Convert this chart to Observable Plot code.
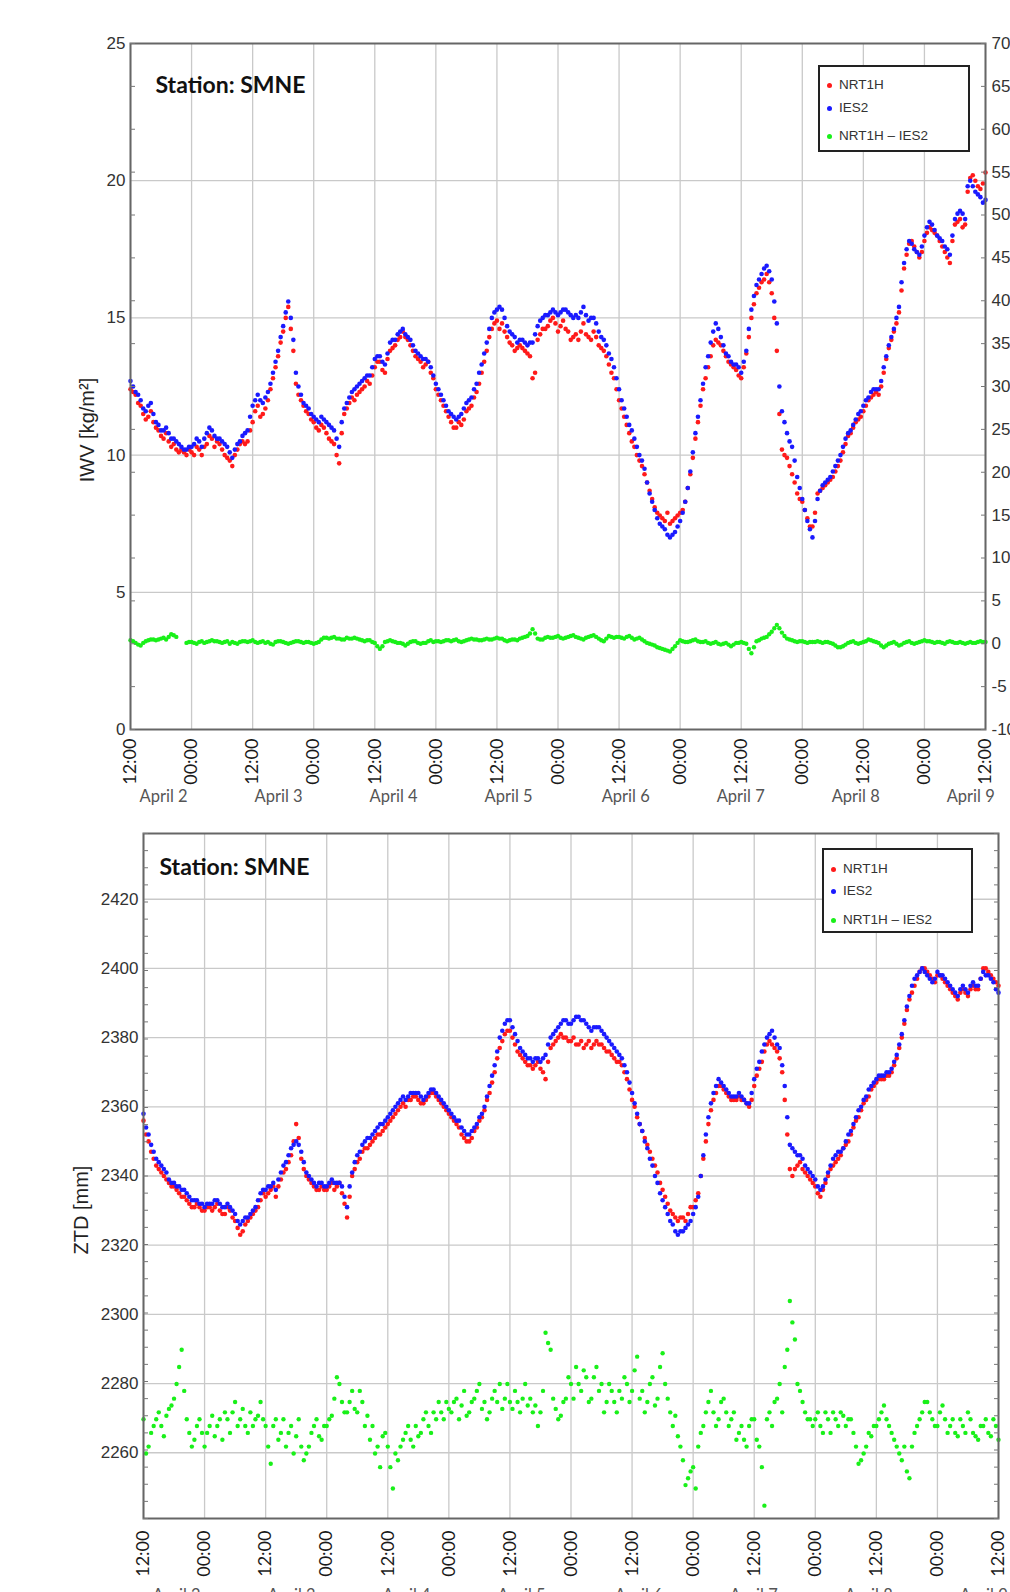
<!DOCTYPE html>
<html><head><meta charset="utf-8">
<script src="https://cdn.jsdelivr.net/npm/d3@7"></script>
<script src="https://cdn.jsdelivr.net/npm/@observablehq/plot@0.6"></script>
<style>
body{margin:0;background:#fff;}
#wrap{position:relative;width:1010px;height:1592px;overflow:hidden;background:#fff;}
#wrap svg{display:block;}
.legend{position:absolute;border:2px solid #222;background:#fff;font-family:"Liberation Sans",Arial,sans-serif;font-size:13.5px;color:#333;box-sizing:border-box;}
.legend .it{position:absolute;left:0;height:16px;line-height:16px;display:flex;align-items:center;white-space:nowrap;}
.legend .dot{width:5px;height:5px;border-radius:50%;}
.ylab{position:absolute;font-family:"Liberation Sans",Arial,sans-serif;font-size:20px;color:#222;white-space:nowrap;transform:translate(-50%,-50%) rotate(-90deg);}
</style></head><body><div id="wrap"></div>
<script>
// ---------- data (hour 0 = first 12:00 tick; full-hour and half-hour samples) ----------
const station = "Station: SMNE";
const seriesNames = ["NRT1H", "IES2", "NRT1H \u2013 IES2"];
const seriesColors = ["#ff1a1a", "#1a1aff", "#19f019"];
const dateNames = ["April 2","April 3","April 4","April 5","April 6","April 7","April 8","April 9"];
const dateHours = [6.5, 29.1, 51.7, 74.3, 97.3, 119.9, 142.5, 165.1];
const timeTicks = [0,12,24,36,48,60,72,84,96,108,120,132,144,156,168];
const timeTickLabels = ["12:00","00:00","12:00","00:00","12:00","00:00","12:00","00:00","12:00","00:00","12:00","00:00","12:00","00:00","12:00"];

const iwvTicks = [0,5,10,15,20,25];
const iwvRightTicks = [-10,-5,0,5,10,15,20,25,30,35,40,45,50,55,60,65,70];
const ztdTicks = [2260,2280,2300,2320,2340,2360,2380,2400,2420];
const ztdRightTicks = [-10,-8,-6,-4,-2,0,2,4,6,8,10,12,14,16,18,20,22,24,26,28,30,32,34,36,38,40,42,44,46,48,50,52,54,56,58,60,62,64,66,68,70];

const iwvNRT1H = [
12.4,12.2,11.8,11.3,11.6,11.0,10.7,10.8,10.3,10.2,10.2,10.0,
10.1,10.3,10.0,10.4,10.6,10.5,10.2,9.9,9.6,10.2,10.5,10.5,
11.2,11.8,11.5,12.0,12.8,13.6,14.5,15.4,13.8,12.2,11.8,11.5,
11.2,10.9,11.0,10.6,10.4,9.7,11.5,11.9,12.0,12.3,12.5,12.6,
13.2,13.4,13.0,13.8,14.0,14.3,14.3,14.0,13.6,13.4,13.3,13.0,
12.4,12.0,11.6,11.2,11.0,11.1,11.6,11.8,12.3,13.0,13.8,14.6,
14.9,14.8,14.3,14.0,13.9,13.9,13.7,12.8,14.2,14.6,14.7,15.0,
14.5,14.9,14.5,14.3,14.2,14.8,14.3,14.5,14.0,13.8,13.3,12.8,
12.0,11.4,10.8,10.3,9.8,9.3,8.7,8.1,7.8,7.6,7.5,7.7,
7.9,8.3,9.3,10.6,11.8,12.8,13.6,14.2,14.0,13.6,13.3,13.1,
12.8,13.7,15.0,15.9,16.3,16.6,15.9,13.8,10.2,9.9,9.3,8.6,
8.3,7.7,7.4,8.6,8.8,9.0,9.2,9.6,10.1,10.7,11.0,11.3,
11.6,12.0,12.2,12.2,13.0,13.9,14.5,15.2,16.8,17.7,17.6,17.2,
17.8,18.3,18.1,17.8,17.4,17.0,18.4,18.6,18.4,20.1,20.0,19.7,
20.3];
const iwvNRT1Hhalf = [
12.3,11.9,11.5,11.4,11.2,10.9,10.6,10.5,10.4,10.1,10.1,10.2,
10.0,10.2,10.3,10.7,10.3,10.4,10.0,9.8,10.0,10.4,10.4,10.9,
11.6,11.4,11.7,12.4,13.2,14.1,15.0,14.6,12.6,12.0,11.6,11.3,
11.0,11.1,10.8,10.5,10.0,10.8,11.7,12.1,12.2,12.4,12.7,12.9,
13.4,13.1,13.5,13.9,14.2,14.5,14.2,13.8,13.5,13.2,13.4,12.8,
12.2,11.8,11.4,11.0,11.2,11.3,11.7,12.1,12.6,13.4,14.3,14.8,
14.6,14.5,14.1,13.8,14.0,13.8,13.6,13.0,14.4,14.6,14.9,14.8,
14.7,14.6,14.2,14.4,14.5,14.4,14.2,14.3,13.9,13.6,13.0,12.4,
11.7,11.1,10.5,10.0,9.6,9.0,8.4,7.9,7.7,7.9,7.6,7.8,
8.0,8.8,9.9,11.2,12.4,13.2,14.0,14.1,13.8,13.4,13.2,12.9,
13.2,14.3,15.5,16.1,16.4,16.3,15.0,11.5,10.0,9.6,9.0,8.4,
8.0,7.4,7.9,8.7,8.9,9.1,9.4,9.8,10.4,10.8,11.2,11.4,
11.8,12.1,12.3,12.5,13.5,14.2,14.8,16.0,17.3,17.8,17.4,17.4,
18.1,18.2,18.0,17.6,17.2,17.8,18.5,18.3,19.6,20.2,19.8,19.9];
const iwvIES2 = [
12.7,12.3,12.0,11.6,11.9,11.2,10.9,11.0,10.6,10.5,10.3,10.2,
10.3,10.6,10.3,10.8,10.9,10.6,10.5,10.3,9.9,10.4,10.7,10.9,
11.8,12.2,11.9,12.3,13.0,13.8,14.7,15.6,14.2,12.5,11.9,11.7,
11.4,11.2,11.3,11.1,10.9,10.3,11.7,12.1,12.4,12.6,12.8,12.9,
13.5,13.6,13.3,14.1,14.2,14.5,14.4,14.2,13.8,13.6,13.5,13.2,
12.6,12.2,11.8,11.5,11.3,11.5,11.9,12.1,12.6,13.3,14.1,15.0,
15.3,15.3,14.7,14.4,14.1,14.2,14.0,14.1,14.7,15.0,15.1,15.3,
15.1,15.3,15.2,15.0,15.0,15.4,14.9,15.0,14.5,14.2,13.7,13.2,
12.4,11.7,11.1,10.6,10.0,9.5,8.6,8.0,7.5,7.3,7.0,7.2,
7.6,8.3,9.4,10.8,12.0,13.2,14.1,14.8,14.3,13.7,13.4,13.3,
13.0,13.8,15.3,16.2,16.6,16.9,16.4,14.8,11.6,10.8,10.3,9.2,
8.4,7.6,7.0,8.4,8.9,9.1,9.4,9.8,10.3,10.8,11.1,11.5,
11.8,12.1,12.4,12.4,13.2,14.0,14.6,15.4,17.0,17.8,17.5,17.3,
18.0,18.5,18.2,17.9,17.6,17.3,18.6,18.9,18.6,20.0,19.6,19.4,
19.3];
const iwvIES2half = [
12.5,12.2,11.7,11.8,11.5,11.1,10.9,10.8,10.6,10.4,10.2,10.3,
10.4,10.5,10.6,11.0,10.7,10.6,10.4,10.1,10.2,10.5,10.8,11.4,
12.0,12.0,12.1,12.6,13.4,14.3,15.2,15.0,13.0,12.2,11.8,11.5,
11.3,11.4,11.2,11.0,10.6,11.2,11.9,12.3,12.5,12.7,12.9,13.2,
13.6,13.4,13.7,14.2,14.4,14.6,14.3,14.0,13.7,13.5,13.4,12.9,
12.4,12.0,11.6,11.4,11.4,11.7,12.0,12.4,13.0,13.7,14.6,15.2,
15.4,15.0,14.5,14.3,14.2,14.1,14.1,14.4,14.9,15.1,15.2,15.2,
15.2,15.3,15.1,15.1,15.2,15.1,15.0,14.8,14.3,14.0,13.5,12.8,
12.0,11.4,10.9,10.3,9.8,9.0,8.3,7.7,7.4,7.1,7.1,7.4,
7.9,8.8,10.1,11.4,12.6,13.6,14.5,14.6,14.0,13.6,13.3,13.2,
13.4,14.6,15.8,16.4,16.8,16.7,15.6,12.5,11.2,10.5,9.8,8.8,
8.0,7.3,7.6,8.7,9.0,9.2,9.6,10.0,10.6,10.9,11.3,11.6,
12.0,12.3,12.4,12.7,13.6,14.3,15.0,16.3,17.5,17.7,17.4,17.6,
18.3,18.4,18.0,17.8,17.5,18.0,18.8,18.8,19.8,19.8,19.5,19.2];
const iwvDiff = [
0.4,0.1,-0.2,0.3,0.5,0.4,0.6,0.5,1.1,0.8,null,0.1,
0.2,0.0,0.3,0.2,0.4,0.3,0.1,0.3,0.2,0.0,0.3,0.2,
0.4,0.1,0.3,0.2,-0.1,0.3,0.2,0.0,0.2,0.3,0.1,0.2,
0.0,0.2,0.7,0.6,0.8,0.6,0.5,0.6,0.7,0.5,0.3,0.4,
0.1,-0.6,0.2,0.4,0.2,0.1,-0.2,0.2,0.3,0.0,0.1,0.4,
0.3,0.2,0.4,0.3,0.5,0.2,0.4,0.6,0.5,0.4,0.6,0.5,
0.7,0.6,0.3,0.5,0.4,0.7,0.9,1.7,0.6,0.5,0.8,0.7,
0.9,0.6,0.8,1.0,0.7,0.5,0.8,1.0,0.6,0.3,0.9,0.7,
0.8,0.6,0.9,0.5,0.7,0.3,0.0,-0.2,-0.5,-0.7,-0.9,-0.3,
0.4,0.2,0.3,0.5,0.2,0.3,0.0,0.2,-0.1,0.1,-0.3,0.1,
0.2,0.0,-1.1,0.3,0.6,0.8,1.4,2.2,1.3,0.6,0.4,0.2,
0.3,0.1,0.2,0.3,0.1,0.2,0.0,-0.4,-0.3,0.1,0.3,0.0,
0.2,0.5,0.3,0.1,-0.4,0.0,0.2,-0.2,0.1,0.3,0.0,0.2,
0.4,0.3,0.1,0.2,0.0,0.3,0.1,0.2,0.0,0.2,0.1,0.3,
0.2];
const iwvDiffhalf = [
0.3,-0.1,0.1,0.4,0.5,0.5,0.7,0.8,1.0,null,null,0.2,
0.1,0.2,0.1,0.3,0.3,0.2,0.2,0.0,0.1,0.2,0.3,0.3,
0.2,0.2,0.1,0.0,0.2,0.3,0.1,0.1,0.3,0.2,0.2,0.1,
0.1,0.5,0.7,0.7,0.6,0.5,0.7,0.6,0.6,0.4,0.4,0.2,
-0.3,-0.3,0.3,0.3,0.1,0.0,0.0,0.3,0.1,0.1,0.3,0.2,
0.3,0.3,0.4,0.4,0.3,0.3,0.5,0.5,0.4,0.5,0.5,0.6,
0.6,0.4,0.4,0.5,0.6,0.8,1.2,1.2,0.5,0.7,0.7,0.8,
0.7,0.7,0.9,0.8,0.6,0.7,0.9,0.8,0.4,0.6,0.8,0.8,
0.7,0.8,0.7,0.6,0.5,0.1,-0.1,-0.4,-0.6,-0.8,-0.6,0.1,
0.3,0.2,0.4,0.3,0.2,0.1,0.1,0.0,0.0,-0.1,-0.1,0.1,
0.1,-0.6,-0.4,0.4,0.7,1.1,1.8,1.8,0.9,0.5,0.3,0.3,
0.2,0.2,0.2,0.2,0.2,0.1,-0.2,-0.4,-0.1,0.2,0.1,0.1,
0.3,0.4,0.2,-0.2,-0.2,0.1,0.0,-0.1,0.2,0.1,0.1,0.3,
0.3,0.2,0.2,0.1,0.2,0.2,0.1,0.1,0.1,0.1,0.2,0.2];
const ztdNRT1H = [
2356,2350,2345,2342,2340,2338,2337,2335,2334,2332,2331,2331,
2330,2331,2331,2330,2329,2330,2327,2323,2326,2328,2330,2333,
2334,2336,2334,2339,2342,2346,2355,2345,2340,2338,2336,2337,
2336,2338,2337,2335,2328,2340,2344,2347,2348,2350,2352,2353,
2355,2357,2359,2361,2362,2363,2362,2361,2363,2364,2362,2360,
2358,2356,2354,2351,2350,2353,2356,2359,2364,2370,2377,2381,
2382,2378,2375,2373,2372,2372,2371,2368,2377,2379,2381,2380,
2379,2378,2379,2378,2377,2379,2378,2376,2375,2373,2372,2368,
2362,2357,2353,2349,2345,2341,2336,2332,2329,2327,2328,2329,
2331,2335,2345,2355,2362,2366,2365,2363,2362,2363,2362,2360,
2366,2371,2376,2379,2377,2374,2362,2342,2342,2344,2341,2339,
2337,2334,2338,2342,2344,2346,2349,2352,2356,2359,2362,2365,
2367,2368,2369,2370,2374,2380,2388,2393,2397,2400,2399,2397,
2398,2397,2395,2393,2391,2394,2392,2395,2394,2400,2399,2397,
2395];
const ztdNRT1Hhalf = [
2352,2347,2343,2341,2339,2337,2336,2334,2333,2331,2332,2330,
2331,2330,2332,2329,2331,2328,2325,2324,2327,2329,2331,2335,
2335,2337,2337,2341,2344,2350,2351,2342,2339,2337,2336,2336,
2337,2336,2338,2332,2334,2342,2345,2348,2349,2351,2352,2354,
2356,2358,2360,2360,2362,2363,2361,2362,2364,2363,2361,2359,
2357,2355,2352,2350,2351,2354,2357,2362,2367,2374,2379,2382,
2380,2376,2374,2372,2371,2373,2370,2373,2378,2380,2380,2379,
2380,2378,2377,2379,2378,2378,2377,2376,2374,2373,2370,2365,
2360,2355,2351,2347,2343,2338,2334,2330,2328,2328,2327,2331,
2333,2340,2350,2359,2364,2366,2364,2362,2362,2362,2361,2362,
2369,2373,2378,2378,2376,2370,2352,2340,2343,2342,2340,2338,
2335,2336,2340,2343,2345,2348,2350,2354,2357,2361,2363,2366,
2368,2368,2369,2372,2377,2384,2391,2395,2399,2400,2398,2396,
2398,2396,2394,2392,2393,2393,2394,2394,2397,2400,2398,2396];
const ztdIES2 = [
2358,2352,2347,2344,2342,2339,2338,2337,2336,2334,2333,2332,
2331,2332,2333,2332,2331,2331,2329,2326,2328,2329,2331,2335,
2336,2337,2336,2341,2344,2348,2350,2347,2341,2339,2337,2338,
2337,2339,2338,2337,2331,2341,2346,2349,2351,2352,2354,2355,
2357,2359,2361,2363,2363,2364,2364,2362,2364,2365,2363,2361,
2359,2357,2356,2353,2352,2354,2357,2360,2366,2372,2380,2384,
2385,2381,2377,2375,2374,2374,2373,2375,2380,2382,2384,2385,
2384,2386,2385,2384,2382,2383,2382,2380,2378,2376,2374,2370,
2364,2358,2353,2348,2343,2338,2333,2329,2326,2323,2324,2326,
2329,2334,2346,2357,2364,2368,2366,2364,2363,2364,2362,2361,
2368,2373,2378,2381,2380,2377,2366,2349,2347,2346,2343,2341,
2339,2336,2339,2343,2346,2347,2350,2353,2357,2360,2363,2366,
2368,2369,2370,2371,2375,2381,2389,2395,2398,2400,2398,2396,
2399,2398,2396,2394,2392,2395,2393,2396,2395,2399,2398,2396,
2393];
const ztdIES2half = [
2354,2349,2345,2343,2341,2338,2337,2336,2335,2333,2333,2332,
2332,2332,2333,2331,2332,2330,2327,2327,2328,2330,2333,2336,
2337,2338,2339,2343,2346,2349,2349,2344,2340,2338,2338,2337,
2338,2338,2338,2334,2337,2344,2347,2350,2351,2353,2355,2356,
2358,2360,2362,2362,2364,2364,2363,2363,2365,2364,2362,2360,
2358,2356,2354,2352,2353,2355,2358,2363,2369,2376,2382,2385,
2383,2379,2376,2374,2373,2374,2374,2378,2381,2383,2385,2384,
2385,2386,2385,2383,2383,2383,2381,2379,2377,2375,2372,2367,
2361,2355,2350,2345,2340,2335,2331,2327,2324,2324,2325,2327,
2331,2340,2352,2361,2366,2367,2365,2363,2363,2363,2361,2364,
2371,2376,2380,2382,2378,2372,2357,2348,2346,2345,2342,2340,
2337,2337,2341,2345,2347,2348,2352,2355,2359,2362,2365,2367,
2369,2369,2370,2373,2378,2385,2392,2397,2399,2399,2397,2397,
2398,2397,2395,2393,2394,2394,2395,2395,2397,2398,2397,2394];
const ztdDiff = [
1.6,-1.6,0.8,2.4,-0.4,2.8,4.0,7.7,4.9,0.0,-0.8,1.6,
-1.6,0.8,-0.4,1.6,2.4,0.0,3.6,1.6,0.8,2.4,1.6,3.6,
0.8,-3.6,1.6,0.0,-1.6,0.8,-0.4,-1.6,-2.4,0.0,1.6,-0.8,
0.8,2.0,6.5,3.6,2.4,4.9,2.4,3.6,2.0,0.8,-1.6,-0.4,
-1.6,-6.5,-3.2,-0.8,0.8,-1.6,-0.4,1.6,0.8,2.4,3.6,1.6,
2.8,3.6,1.6,4.9,2.4,4.0,5.7,3.6,2.4,4.9,5.7,4.0,
3.6,4.9,2.4,5.7,4.0,3.2,2.4,11.7,9.7,2.8,2.0,4.0,
5.7,7.7,4.9,6.5,4.0,7.7,5.7,3.6,4.9,2.4,4.0,5.7,
4.9,8.9,4.9,3.6,6.5,4.0,9.3,4.0,0.8,-0.4,-3.2,-5.3,
-4.0,-1.6,0.8,3.6,2.4,1.6,4.0,0.8,2.4,0.0,-0.8,0.8,
1.6,-1.6,-8.5,2.4,3.6,5.7,7.7,15.4,10.9,4.9,2.4,1.6,
1.6,0.8,2.4,0.0,1.6,2.4,0.8,1.6,-1.6,-3.2,-1.6,-0.4,
0.8,2.4,1.6,0.0,-1.6,-3.2,-4.5,-1.6,0.8,2.4,3.6,1.6,
0.8,3.2,0.0,1.6,-0.4,0.8,2.4,0.0,-0.8,0.8,0.0,1.6,
-0.8];
const ztdDiffhalf = [
-2.4,0.0,1.6,0.8,2.0,3.2,5.7,9.7,1.6,-1.6,0.8,0.0,
0.0,2.0,0.8,-0.8,1.6,2.4,0.8,2.8,0.0,0.8,2.0,1.6,
-1.6,0.8,-0.8,1.6,0.0,-2.4,1.6,-3.2,-1.6,0.8,-0.4,0.8,
1.6,4.0,5.7,2.4,3.6,2.8,4.9,0.8,-0.8,-2.4,-4.0,0.0,
-4.0,-2.4,-1.6,0.0,-0.8,0.8,0.0,2.4,0.0,1.6,2.4,3.6,
2.4,4.0,3.2,2.0,3.6,4.9,2.8,1.6,4.0,3.6,2.8,5.7,
2.8,3.6,4.0,3.2,2.4,0.8,4.9,10.5,4.0,1.6,3.6,6.5,
4.0,5.7,7.3,3.6,6.5,4.9,2.4,5.7,3.6,4.9,6.5,3.6,
7.3,4.0,2.4,5.7,3.2,7.7,5.7,2.4,2.0,-1.6,-6.1,-4.5,
-6.5,0.0,2.4,4.9,0.8,3.6,2.4,1.6,-0.8,0.8,-1.6,1.6,
-0.8,-4.0,1.6,0.8,4.0,2.4,9.7,12.9,5.7,3.6,1.6,0.8,
2.4,0.0,1.6,2.4,0.8,2.0,1.6,0.0,-3.6,-2.4,0.0,0.8,
1.6,3.2,0.8,-0.8,-2.4,-1.6,-5.3,0.0,1.6,3.6,2.4,0.8,
2.4,1.6,0.8,0.0,1.6,0.0,1.6,-0.4,0.8,1.6,-0.4,0.8];

// ---------- drawing ----------
const sansFont = "'Liberation Sans', Arial, sans-serif";
const calFont = "Lato, 'Open Sans', sans-serif";
const dateTable = dateNames.map((label, i) => ({label, h: dateHours[i]}));
const tickLabelMap = new Map(timeTicks.map((t, i) => [t, timeTickLabels[i]]));

function merge(full, half) {
  return full.map((v, i) => ({h: i, v}))
    .concat(half.map((v, i) => ({h: i + 0.5, v})))
    .filter(d => d.v != null)
    .sort((a, b) => a.h - b.h);
}

function panel(cfg) {
  const [y0, y1] = cfg.yDomain, [r0, r1] = cfg.rDomain;
  const toY = d => y0 + (d - r0) * (y1 - y0) / (r1 - r0);
  const rPos = cfg.rTicks.map(toY);
  const rLab = new Map(rPos.map((p, i) => [p, String(cfg.rTicks[i])]));
  const grid = cfg.yTicks.filter(t => t > y0 + 0.5 && t < y1 - 0.5);
  const marks = [
    Plot.ruleX(timeTicks, {x: d => d, stroke: "#c9c9c9", strokeWidth: 1.3}),
    Plot.ruleY(grid, {y: d => d, stroke: "#c9c9c9", strokeWidth: 1.3}),
    Plot.dot(cfg.green, {x: "h", y: d => toY(d.v), r: 2.2, fill: seriesColors[2]}),
    Plot.dot(cfg.red, {x: "h", y: "v", r: 2.3, fill: seriesColors[0]}),
    Plot.dot(cfg.blue, {x: "h", y: "v", r: 2.3, fill: seriesColors[1]}),
    Plot.frame({stroke: "#666", strokeWidth: 2}),
    Plot.axisY(cfg.yTicks, {anchor: "left", tickSize: 0, tickPadding: 5, tickFormat: d => String(d),
      fontFamily: sansFont, fontSize: 17, fill: "#333", label: null}),
    Plot.axisY(rPos, {anchor: "left", tickSize: -5, tickFormat: () => "", stroke: "#777", label: null}),
    Plot.axisY(rPos, {anchor: "right", tickSize: -5, tickFormat: () => "", stroke: "#777", label: null}),
    Plot.axisX(timeTicks, {anchor: "bottom", tickSize: 0, tickPadding: cfg.xPad, tickRotate: -90,
      tickFormat: d => tickLabelMap.get(d), fontFamily: calFont, fontSize: 18, fill: "#1a1a1a", label: null}),
    Plot.text(dateTable, {x: "h", text: "label", frameAnchor: "bottom", dy: cfg.dateDy,
      fontSize: 16.5, fill: "#555", fontFamily: calFont}),
    Plot.text([station], {frameAnchor: "top-left", dx: cfg.sx, dy: cfg.sy, textAnchor: "start",
      lineAnchor: "middle", fontSize: 23, fontWeight: "bold", fill: "#111", fontFamily: calFont})
  ];
  if (cfg.rLabels) {
    marks.push(Plot.axisY(rPos, {anchor: "right", tickSize: 0, tickPadding: cfg.rPad, tickFormat: d => rLab.get(d),
      fontFamily: sansFont, fontSize: 17, fill: "#333", label: null}));
  }
  return Plot.plot({
    width: 1010, height: cfg.height,
    marginLeft: cfg.ml, marginRight: cfg.mr, marginTop: cfg.mt, marginBottom: cfg.mb,
    x: {domain: [0, 168]},
    y: {domain: cfg.yDomain},
    style: {background: "#fff", overflow: "visible"},
    marks
  });
}

function makeLegend(left, topPx, w, h, rows, dotX, textX) {
  const box = document.createElement("div");
  box.className = "legend";
  Object.assign(box.style, {left: left + "px", top: topPx + "px", width: w + "px", height: h + "px"});
  seriesNames.forEach((name, i) => {
    const it = document.createElement("div");
    it.className = "it";
    it.style.top = (rows[i] - 8) + "px";
    const dot = document.createElement("span");
    dot.className = "dot";
    dot.style.background = seriesColors[i];
    dot.style.marginLeft = (dotX - 2.5) + "px";
    dot.style.marginRight = (textX - dotX - 2.5) + "px";
    const tx = document.createElement("span");
    tx.textContent = name;
    it.appendChild(dot); it.appendChild(tx);
    box.appendChild(it);
  });
  return box;
}
function makeYLabel(text, cx, cy) {
  const d = document.createElement("div");
  d.className = "ylab";
  d.textContent = text;
  d.style.left = cx + "px";
  d.style.top = cy + "px";
  return d;
}

const wrap = document.getElementById("wrap");
const iwvChart = panel({
  height: 810, ml: 130, mr: 25, mt: 43, mb: 81,
  yDomain: [0, 25], yTicks: iwvTicks, rDomain: [-10, 70], rTicks: iwvRightTicks, rLabels: true,
  red: merge(iwvNRT1H, iwvNRT1Hhalf), blue: merge(iwvIES2, iwvIES2half), green: merge(iwvDiff, iwvDiffhalf),
  rPad: 6, xPad: 9, dateDy: 72, sx: 25, sy: 42
});
const ztdChart = panel({
  height: 810, ml: 143, mr: 12, mt: 23, mb: 102,
  yDomain: [2241, 2439], yTicks: ztdTicks, rDomain: [-10, 70], rTicks: ztdRightTicks, rLabels: false,
  red: merge(ztdNRT1H, ztdNRT1Hhalf), blue: merge(ztdIES2, ztdIES2half), green: merge(ztdDiff, ztdDiffhalf),
  rPad: 7, xPad: 12, dateDy: 82, sx: 16, sy: 34
});
wrap.appendChild(iwvChart);
wrap.appendChild(ztdChart);
wrap.appendChild(makeLegend(818, 65, 152, 87, [18, 41, 69], 9, 19));
wrap.appendChild(makeLegend(822, 848, 151, 85, [19, 41, 70], 9, 19));
wrap.appendChild(makeYLabel("IWV [kg/m\u00b2]", 87, 430));
wrap.appendChild(makeYLabel("ZTD [mm]", 81, 1210));
</script></body></html>
